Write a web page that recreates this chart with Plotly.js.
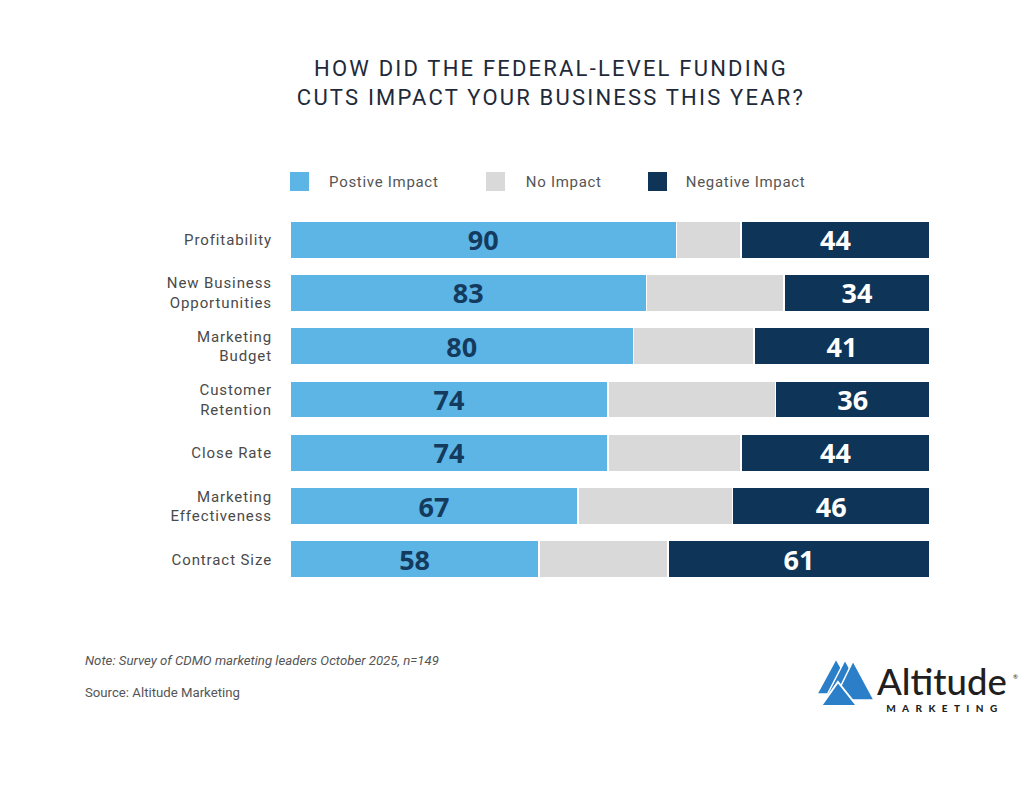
<!DOCTYPE html>
<html>
<head>
<meta charset="utf-8">
<script src="https://cdn.plot.ly/plotly-3.0.1.min.js"></script>
<style>
html,body{margin:0;padding:0;background:#fff;}
#chart{width:1024px;height:790px;}
.gtitle{letter-spacing:2.2px;}
.ytick text{letter-spacing:0.9px;}
.annotation[data-index="0"] text,.annotation[data-index="1"] text,.annotation[data-index="2"] text{letter-spacing:0.7px;}
.annotation[data-index="6"] text{letter-spacing:6.4px;}
</style>
</head>
<body>
<div id="chart"></div>
<script>
const categories = ["Profitability","New Business<br>Opportunities","Marketing<br>Budget","Customer<br>Retention","Close Rate","Marketing<br>Effectiveness","Contract Size"];
const positive = [90,83,80,74,74,67,58];
const noImpact = [15,32,28,39,31,36,30];
const negative = [44,34,41,36,44,46,61];
const seriesNames = ["Postive Impact","No Impact","Negative Impact"];
const colors = ["#5db5e6","#d9d9d9","#0e3558"];

const L=290, R=94, T=213, B=204, W=1024, H=790;
const PW = W-L-R, PH = H-T-B;
const px = X => (X-L)/PW;
const py = Y => (H-B-Y)/PH;
function poly(pts){ return 'M' + pts.map(p => px(p[0]).toFixed(5)+','+py(p[1]).toFixed(5)).join(' L') + ' Z'; }

const numFont = {family:"Open Sans, sans-serif", size:27, weight:700};
const common = {type:'bar', orientation:'h', y:categories, hoverinfo:'x+name',
  textposition:'inside', insidetextanchor:'middle',
  textangle:0, constraintext:'none', cliponaxis:false, showlegend:false};

const traces = [
  Object.assign({}, common, {name:seriesNames[0], x:positive, text:positive.map(String),
    marker:{color:colors[0], line:{color:'#ffffff', width:1.5}}, textfont:Object.assign({color:'#143a5e'}, numFont)}),
  Object.assign({}, common, {name:seriesNames[1], x:noImpact, text:noImpact.map(()=>''),
    marker:{color:colors[1], line:{color:'#ffffff', width:1.5}}, textfont:numFont}),
  Object.assign({}, common, {name:seriesNames[2], x:negative, text:negative.map(String),
    marker:{color:colors[2], line:{color:'#ffffff', width:1.5}}, textfont:Object.assign({color:'#ffffff'}, numFont)})
];

const legendX = [[290,332],[486,527],[648,689]];
const shapes = [];
const annotations = [];
seriesNames.forEach((n,i) => {
  shapes.push({type:'rect', xref:'paper', yref:'paper', x0:px(legendX[i][0]), x1:px(legendX[i][0]+19), y0:py(191), y1:py(172), fillcolor:colors[i], line:{width:0}});
  annotations.push({xref:'paper', yref:'paper', x:px(legendX[i][1]), y:py(182), xanchor:'left', yanchor:'middle', showarrow:false, text:n, font:{family:'Roboto, sans-serif', size:15, color:'#555555'}});
});
annotations.push({xref:'paper', yref:'paper', x:px(83), y:py(660), xanchor:'left', yanchor:'middle', showarrow:false, text:'<i>Note: Survey of CDMO marketing leaders October 2025, n=149</i>', font:{family:'Roboto, sans-serif', size:13.2, color:'#555555'}});
annotations.push({xref:'paper', yref:'paper', x:px(83), y:py(692), xanchor:'left', yanchor:'middle', showarrow:false, text:'Source: Altitude Marketing', font:{family:'Roboto, sans-serif', size:13.2, color:'#555555'}});
// logo text
annotations.push({xref:'paper', yref:'paper', x:px(876), y:py(680.5), xanchor:'left', yanchor:'middle', showarrow:false, borderpad:0, text:'Altitude', font:{family:'Lato, sans-serif', size:36.5, weight:500, color:'#231f20'}});
annotations.push({xref:'paper', yref:'paper', x:px(945), y:py(708), xanchor:'center', yanchor:'middle', showarrow:false, borderpad:0, text:'MARKETING', font:{family:'Lato, sans-serif', size:10, weight:900, color:'#231f20'}});
annotations.push({xref:'paper', yref:'paper', x:px(1015), y:py(676), xanchor:'center', yanchor:'middle', showarrow:false, borderpad:0, text:'®', font:{family:'Lato, sans-serif', size:6, color:'#231f20'}});

// logo mountains
const blue = '#2a7fc8';
shapes.push({type:'path', xref:'paper', yref:'paper', path:poly([[836,659],[856,694],[817,694]]), fillcolor:blue, line:{color:'#ffffff', width:1.5}});
shapes.push({type:'path', xref:'paper', yref:'paper', path:poly([[845,660],[865,697],[826,697]]), fillcolor:blue, line:{color:'#ffffff', width:1.5}});
shapes.push({type:'path', xref:'paper', yref:'paper', path:poly([[853,661],[874,700],[834,700]]), fillcolor:blue, line:{color:'#ffffff', width:1.5}});
shapes.push({type:'path', xref:'paper', yref:'paper', path:poly([[838,682],[857,706],[821,706]]), fillcolor:blue, line:{color:'#ffffff', width:2}});

const layout = {
  width:W, height:H, paper_bgcolor:'#ffffff', plot_bgcolor:'#ffffff',
  margin:{l:L, r:R, t:T, b:B},
  barmode:'stack', bargap:0.3,
  title:{text:'HOW DID THE FEDERAL-LEVEL FUNDING<br>CUTS IMPACT YOUR BUSINESS THIS YEAR?', xref:'container', yref:'container', x:551/W, xanchor:'center', y:1-76/H, yanchor:'top',
    font:{family:'Roboto, sans-serif', size:22, color:'#1e2a3a'}},
  xaxis:{range:[0,149], visible:false, fixedrange:true},
  yaxis:{autorange:'reversed', showgrid:false, zeroline:false, showline:false, ticks:'', ticklabelstandoff:17,
    tickfont:{family:'Roboto, sans-serif', size:15, color:'#4a4a4a'}, fixedrange:true},
  shapes:shapes, annotations:annotations,
  font:{family:'Roboto, sans-serif'}
};
Plotly.newPlot('chart', traces, layout, {displayModeBar:false, staticPlot:true});
</script>
</body>
</html>
